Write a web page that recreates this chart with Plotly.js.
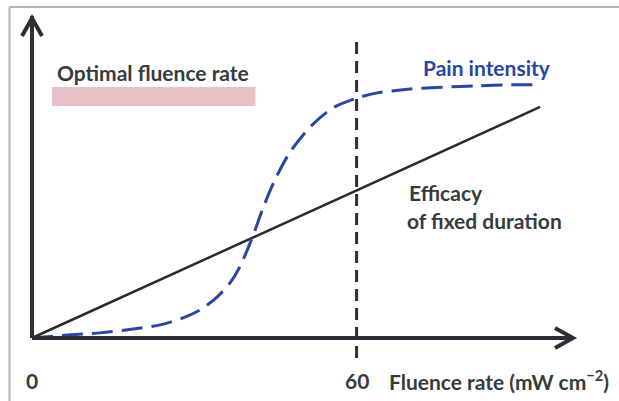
<!DOCTYPE html>
<html>
<head>
<meta charset="utf-8">
<script src="https://cdn.plot.ly/plotly-3.0.1.min.js"></script>
<style>html,body{margin:0;padding:0;background:#fff;}#chart{width:619px;height:401px;}</style>
</head>
<body>
<div id="chart"></div>
<script>
// Fluence rate (x, arbitrary schematic units: 60 = marked threshold)
var painX = [0, 6.5, 12.6, 18.7, 23.7, 27.9, 31.1, 34.2, 36.6, 38.4, 40.7, 42.7, 44.9, 47.7, 51.4, 55.6, 60.1, 63.8, 69.9, 76.0, 82.3, 88.4, 93.9];
var painY = [0, 0.9, 1.6, 2.8, 4.1, 6.3, 8.8, 12.8, 17.2, 22.2, 31.3, 40.6, 49.4, 58.1, 65.9, 71.9, 75.0, 76.6, 77.8, 78.4, 78.8, 79.1, 79.1];
var efficacyX = [0, 93.9];
var efficacyY = [0, 72.2];
var thresholdX = 60;
var optimalRange = [3.7, 41.3];
var tickVals = [0, 60];
var tickLabels = ['0', '60'];
var axisEnd = 100;

// pixel helpers (plot area fills whole figure)
var W = 619, H = 401;
var X0 = 32, XS = 5.41, Y0 = 338, YS = 3.2;
function dx(px){ return (px - X0) / XS; }
function dy(py){ return (Y0 - py) / YS; }
function path(pts){ return pts.map(function(p, i){ return (i ? 'L' : 'M') + dx(p[0]) + ',' + dy(p[1]); }).join(' '); }

var dark = '#2b2f33';
var textCol = '#363b40';
var blue = '#2a46a0';
var font = 'Lato, "Open Sans", sans-serif';
var fs = 21;

var traces = [
  {x: efficacyX, y: efficacyY, mode: 'lines', line: {color: '#2b2b2b', width: 2.5}, hoverinfo: 'skip'},
  {x: painX, y: painY, mode: 'lines', line: {color: blue, width: 3, dash: '21px,9px', shape: 'spline', smoothing: 0.8}, hoverinfo: 'skip'}
];

function label(px, py, txt, col, anchor){
  return {x: dx(px), y: dy(py), xref: 'x', yref: 'y', xanchor: anchor || 'left', yanchor: 'middle', showarrow: false,
    text: '<b>' + txt + '</b>', font: {family: font, size: fs, color: col || textCol}};
}

var annotations = [
  label(55, 72, 'Optimal fluence rate'),
  label(421, 67, 'Pain intensity', blue),
  label(407, 192, 'Efficacy'),
  label(405, 220, 'of fixed duration'),
  label(387, 380, 'Fluence rate (mW cm<sup>−2</sup>)')
];
tickVals.forEach(function(v, i){
  annotations.push({x: v, y: dy(380), xref: 'x', yref: 'y', xanchor: 'center', yanchor: 'middle', showarrow: false,
    text: '<b>' + tickLabels[i] + '</b>', font: {family: font, size: fs, color: textCol}});
});

var shapes = [
  // frame border
  {type: 'line', xref: 'paper', yref: 'paper', x0: 9.5 / W, x1: 1, y0: 1 - 7 / H, y1: 1 - 7 / H, line: {color: '#a9b9bf', width: 2}},
  {type: 'line', xref: 'paper', yref: 'paper', x0: 9.5 / W, x1: 9.5 / W, y0: 0, y1: 1 - 7 / H, line: {color: '#a9b9bf', width: 2}},
  // optimal range bar
  {type: 'rect', xref: 'x', yref: 'y', x0: optimalRange[0], x1: optimalRange[1], y0: dy(106), y1: dy(87),
   fillcolor: '#e8c2c6', line: {width: 0}, layer: 'below'},
  // threshold line
  {type: 'line', xref: 'x', yref: 'y', x0: thresholdX, x1: thresholdX, y0: dy(358), y1: dy(37),
   line: {color: dark, width: 3, dash: '12px,7px'}},
  // axes with chevron arrowheads
  {type: 'line', xref: 'x', yref: 'y', x0: 0, y0: 0, x1: axisEnd - 0.4, y1: 0, line: {color: dark, width: 4}},
  {type: 'line', xref: 'x', yref: 'y', x0: 0, y0: 0, x1: 0, y1: axisEnd + 0.6, line: {color: dark, width: 4}},
  {type: 'path', xref: 'x', yref: 'y', path: path([[555, 328], [573, 338], [555, 348]]), line: {color: dark, width: 4}},
  {type: 'path', xref: 'x', yref: 'y', path: path([[22, 36], [32, 18], [42, 36]]), line: {color: dark, width: 4}}
];

var layout = {
  width: W, height: H,
  margin: {l: 0, r: 0, t: 0, b: 0},
  paper_bgcolor: '#fff', plot_bgcolor: '#fff',
  showlegend: false,
  xaxis: {range: [dx(0), dx(W)], visible: false, fixedrange: true},
  yaxis: {range: [dy(H), dy(0)], visible: false, fixedrange: true},
  shapes: shapes,
  annotations: annotations
};

Plotly.newPlot('chart', traces, layout, {displayModeBar: false, staticPlot: true});
</script>
</body>
</html>
